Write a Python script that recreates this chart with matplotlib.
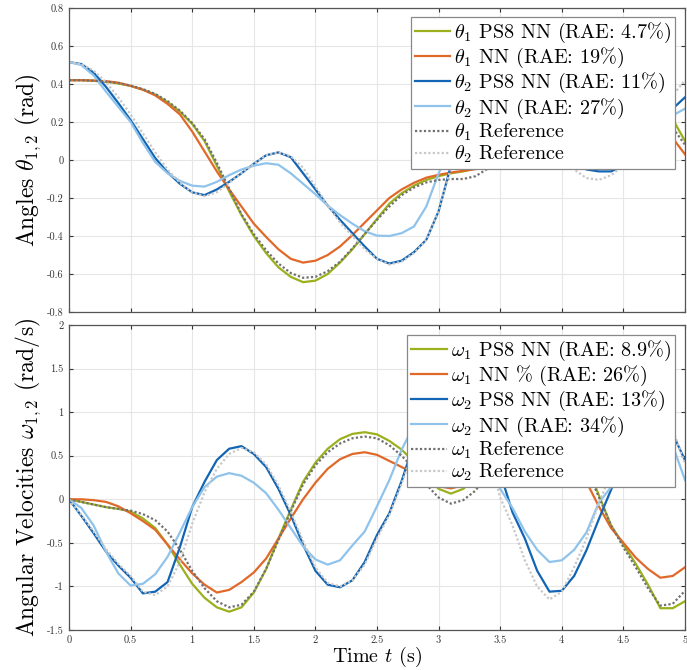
import numpy as np
import matplotlib
matplotlib.use("Agg")
import matplotlib.pyplot as plt

plt.rcParams['font.family'] = 'serif'
plt.rcParams['font.serif'] = ['cmr10', 'DejaVu Serif']
plt.rcParams['mathtext.fontset'] = 'cm'
plt.rcParams['axes.unicode_minus'] = False
plt.rcParams['axes.formatter.use_mathtext'] = True

# ---------------- data ----------------
t = np.linspace(0, 5, 51)

theta1_ps8 = [0.42, 0.42, 0.417, 0.412, 0.403, 0.39, 0.37, 0.345, 0.305, 0.255,
              0.19, 0.10, -0.03, -0.165, -0.29, -0.40, -0.49, -0.565, -0.615, -0.643,
              -0.635, -0.60, -0.54, -0.47, -0.39, -0.31, -0.23, -0.175, -0.135, -0.105,
              -0.085, -0.07, -0.06, -0.045, -0.015, 0.03, 0.09, 0.16, 0.24, 0.32,
              0.39, 0.45, 0.50, 0.53, 0.53, 0.50, 0.45, 0.38, 0.30, 0.215, 0.10]
theta1_nn = [0.42, 0.42, 0.418, 0.415, 0.407, 0.39, 0.37, 0.34, 0.295, 0.24,
             0.15, 0.045, -0.06, -0.155, -0.245, -0.335, -0.405, -0.47, -0.52, -0.54,
             -0.53, -0.50, -0.455, -0.395, -0.33, -0.265, -0.20, -0.155, -0.12, -0.093,
             -0.078, -0.066, -0.057, -0.048, -0.03, 0.01, 0.07, 0.14, 0.21, 0.28,
             0.35, 0.41, 0.45, 0.47, 0.46, 0.42, 0.36, 0.29, 0.20, 0.115, 0.03]
theta2_ps8 = [0.515, 0.505, 0.46, 0.385, 0.30, 0.21, 0.11, 0.01, -0.065, -0.125,
              -0.17, -0.185, -0.155, -0.115, -0.07, -0.02, 0.025, 0.04, 0.015, -0.07,
              -0.155, -0.24, -0.315, -0.385, -0.455, -0.52, -0.545, -0.53, -0.485, -0.42,
              -0.27, -0.03, 0.13, 0.26, 0.35, 0.39, 0.39, 0.34, 0.26, 0.16,
              0.06, -0.01, -0.05, -0.06, -0.06, -0.03, 0.03, 0.11, 0.19, 0.27, 0.33]
theta2_nn = [0.515, 0.50, 0.445, 0.36, 0.28, 0.20, 0.09, -0.01, -0.07, -0.11,
             -0.135, -0.14, -0.115, -0.08, -0.05, -0.03, -0.017, -0.025, -0.07, -0.125,
             -0.18, -0.24, -0.29, -0.335, -0.375, -0.398, -0.40, -0.385, -0.35, -0.245,
             -0.07, 0.07, 0.18, 0.26, 0.31, 0.335, 0.33, 0.30, 0.24, 0.17,
             0.10, 0.05, 0.015, 0.0, 0.005, 0.03, 0.07, 0.12, 0.18, 0.235, 0.27]
theta1_ref = [0.42, 0.42, 0.417, 0.413, 0.405, 0.392, 0.373, 0.348, 0.31, 0.26,
              0.195, 0.11, -0.015, -0.15, -0.285, -0.39, -0.475, -0.545, -0.595, -0.62,
              -0.615, -0.585, -0.535, -0.465, -0.39, -0.315, -0.245, -0.185, -0.145, -0.118,
              -0.105, -0.10, -0.10, -0.085, -0.045, 0.005, 0.065, 0.135, 0.21, 0.29,
              0.36, 0.42, 0.46, 0.48, 0.475, 0.45, 0.40, 0.33, 0.25, 0.17, 0.08]
theta2_ref = [0.515, 0.505, 0.47, 0.41, 0.33, 0.24, 0.14, 0.04, -0.05, -0.12,
              -0.17, -0.19, -0.17, -0.12, -0.07, -0.02, 0.025, 0.04, 0.02, -0.04,
              -0.14, -0.24, -0.33, -0.40, -0.47, -0.52, -0.55, -0.535, -0.49, -0.42,
              -0.27, -0.04, 0.14, 0.29, 0.39, 0.43, 0.42, 0.36, 0.26, 0.14,
              0.03, -0.05, -0.095, -0.105, -0.08, -0.03, 0.05, 0.14, 0.24, 0.34, 0.42]

omega1_ps8 = [0.0, -0.03, -0.06, -0.09, -0.11, -0.14, -0.22, -0.33, -0.52, -0.75,
              -0.97, -1.13, -1.24, -1.29, -1.24, -1.07, -0.80, -0.45, -0.12, 0.20,
              0.42, 0.58, 0.69, 0.75, 0.77, 0.745, 0.67, 0.57, 0.43, 0.26,
              0.12, 0.065, 0.12, 0.24, 0.42, 0.60, 0.76, 0.86, 0.90, 0.88,
              0.80, 0.64, 0.40, 0.05, -0.30, -0.52, -0.74, -0.98, -1.25, -1.25, -1.17]
omega1_nn = [0.0, 0.0, -0.01, -0.03, -0.08, -0.16, -0.25, -0.35, -0.52, -0.69,
             -0.85, -0.98, -1.07, -1.04, -0.95, -0.84, -0.68, -0.45, -0.22, 0.0,
             0.19, 0.35, 0.46, 0.52, 0.54, 0.51, 0.44, 0.37, 0.30, 0.22,
             0.15, 0.125, 0.16, 0.25, 0.38, 0.52, 0.64, 0.72, 0.75, 0.73,
             0.64, 0.48, 0.20, -0.08, -0.33, -0.50, -0.67, -0.80, -0.90, -0.88, -0.78]
omega2_ps8 = [0.0, -0.19, -0.39, -0.60, -0.76, -0.90, -1.08, -1.06, -0.95, -0.55,
              -0.09, 0.20, 0.45, 0.58, 0.61, 0.52, 0.37, 0.12, -0.18, -0.52,
              -0.82, -0.98, -1.01, -0.93, -0.72, -0.41, -0.16, 0.21, 0.64, 1.00,
              1.25, 1.35, 1.30, 1.10, 0.75, 0.30, -0.15, -0.45, -0.82, -1.06,
              -1.05, -0.88, -0.585, -0.23, 0.11, 0.45, 0.75, 0.95, 1.00, 0.75, 0.45]
omega2_nn = [0.0, -0.10, -0.30, -0.60, -0.85, -0.99, -0.97, -0.86, -0.66, -0.38,
             -0.09, 0.14, 0.26, 0.30, 0.27, 0.19, 0.07, -0.12, -0.33, -0.54,
             -0.69, -0.75, -0.70, -0.53, -0.37, -0.08, 0.22, 0.57, 0.85, 1.05,
             1.15, 1.10, 0.95, 0.72, 0.45, 0.12, -0.10, -0.37, -0.58, -0.72,
             -0.70, -0.58, -0.38, -0.04, 0.14, 0.35, 0.55, 0.70, 0.74, 0.62, 0.22]
omega1_ref = [0.0, -0.03, -0.06, -0.09, -0.11, -0.13, -0.17, -0.24, -0.37, -0.58,
              -0.82, -1.02, -1.17, -1.24, -1.21, -1.06, -0.80, -0.47, -0.14, 0.17,
              0.39, 0.54, 0.64, 0.70, 0.72, 0.70, 0.62, 0.50, 0.35, 0.17,
              0.02, -0.05, -0.01, 0.10, 0.30, 0.50, 0.66, 0.77, 0.82, 0.80,
              0.72, 0.57, 0.35, 0.03, -0.30, -0.55, -0.78, -1.02, -1.22, -1.20, -1.05]
omega2_ref = [0.0, -0.18, -0.37, -0.57, -0.74, -0.88, -1.06, -1.10, -1.00, -0.72,
              -0.28, 0.08, 0.35, 0.52, 0.59, 0.54, 0.40, 0.16, -0.14, -0.48,
              -0.78, -0.96, -1.00, -0.93, -0.75, -0.45, -0.18, 0.18, 0.60, 0.95,
              1.20, 1.30, 1.22, 0.95, 0.55, 0.02, -0.30, -0.70, -1.00, -1.15,
              -1.06, -0.78, -0.45, -0.05, 0.30, 0.60, 0.85, 1.00, 1.00, 0.80, 0.41]

labels_theta = [r'$\theta_1$ PS8 NN (RAE: 4.7%)', r'$\theta_1$ NN (RAE: 19%)',
                r'$\theta_2$ PS8 NN (RAE: 11%)', r'$\theta_2$ NN (RAE: 27%)',
                r'$\theta_1$ Reference', r'$\theta_2$ Reference']
labels_omega = [r'$\omega_1$ PS8 NN (RAE: 8.9%)', r'$\omega_1$ NN % (RAE: 26%)',
                r'$\omega_2$ PS8 NN (RAE: 13%)', r'$\omega_2$ NN (RAE: 34%)',
                r'$\omega_1$ Reference', r'$\omega_2$ Reference']

xticks = [0, 0.5, 1, 1.5, 2, 2.5, 3, 3.5, 4, 4.5, 5]
xticklabels = ['0', '0.5', '1', '1.5', '2', '2.5', '3', '3.5', '4', '4.5', '5']
yticks_top = [-0.8, -0.6, -0.4, -0.2, 0, 0.2, 0.4, 0.6, 0.8]
yticklabels_top = ['-0.8', '-0.6', '-0.4', '-0.2', '0', '0.2', '0.4', '0.6', '0.8']
yticks_bot = [-1.5, -1, -0.5, 0, 0.5, 1, 1.5, 2]
yticklabels_bot = ['-1.5', '-1', '-0.5', '0', '0.5', '1', '1.5', '2']

# ---------------- style ----------------
C_GREEN = '#9BB01C'
C_ORANGE = '#E0692A'
C_BLUE = '#1265B4'
C_LBLUE = '#8FC3EB'
C_DGRAY = '#707070'
C_LGRAY = '#C8C8C8'
LW = 1.6
DOT = (0, (1, 1))

fig = plt.figure(figsize=(6.87, 6.70), dpi=100)
ax1 = fig.add_axes([69/687, 1-312/670, 616/687, 304/670])
ax2 = fig.add_axes([69/687, 1-630/670, 616/687, 305/670])


def style(ax, yt, ytl, ylim):
    ax.set_xlim(0, 5)
    ax.set_ylim(*ylim)
    ax.set_xticks(xticks)
    ax.set_yticks(yt)
    ax.set_yticklabels(ytl)
    ax.grid(True, color='#E6E6E6', linewidth=0.8)
    ax.set_axisbelow(True)
    ax.tick_params(direction='in', length=3, width=0.8, top=True, right=True,
                   labelsize=7.5, colors='#333333', pad=4)
    for s in ax.spines.values():
        s.set_color('#555555')
        s.set_linewidth(0.9)


series_top = [theta1_ps8, theta1_nn, theta2_ps8, theta2_nn, theta1_ref, theta2_ref]
series_bot = [omega1_ps8, omega1_nn, omega2_ps8, omega2_nn, omega1_ref, omega2_ref]
colors = [C_GREEN, C_ORANGE, C_BLUE, C_LBLUE, C_DGRAY, C_LGRAY]
styles = ['-', '-', '-', '-', DOT, DOT]

for ax, series, labels in [(ax1, series_top, labels_theta), (ax2, series_bot, labels_omega)]:
    for y, c, ls, lab in zip(series, colors, styles, labels):
        ax.plot(t, y, color=c, linestyle=ls, linewidth=LW, label=lab)

style(ax1, yticks_top, yticklabels_top, (-0.8, 0.8))
style(ax2, yticks_bot, yticklabels_bot, (-1.5, 2))
ax1.set_xticklabels([])
ax2.set_xticklabels(xticklabels)

ax1.set_ylabel(r'Angles $\theta_{1,2}$ (rad)', fontsize=17)
ax2.set_ylabel(r'Angular Velocities $\omega_{1,2}$ (rad/s)', fontsize=17)
ax2.set_xlabel(r'Time $t$ (s)', fontsize=14.5, labelpad=0)
ax1.yaxis.set_label_coords(-0.043, 0.5)
ax2.yaxis.set_label_coords(-0.043, 0.5)

for ax, ytop in [(ax1, (312-17)/304), (ax2, (630-335)/305)]:
    leg = ax.legend(loc='upper right', bbox_to_anchor=((675-69)/616, ytop),
                    borderaxespad=0, fontsize=14.5, fancybox=False, framealpha=1,
                    edgecolor='#888888', handlelength=1.75, handletextpad=0.2,
                    labelspacing=0.05, borderpad=0.2)
    leg.get_frame().set_linewidth(0.9)

fig.savefig('out.png', dpi=100)
